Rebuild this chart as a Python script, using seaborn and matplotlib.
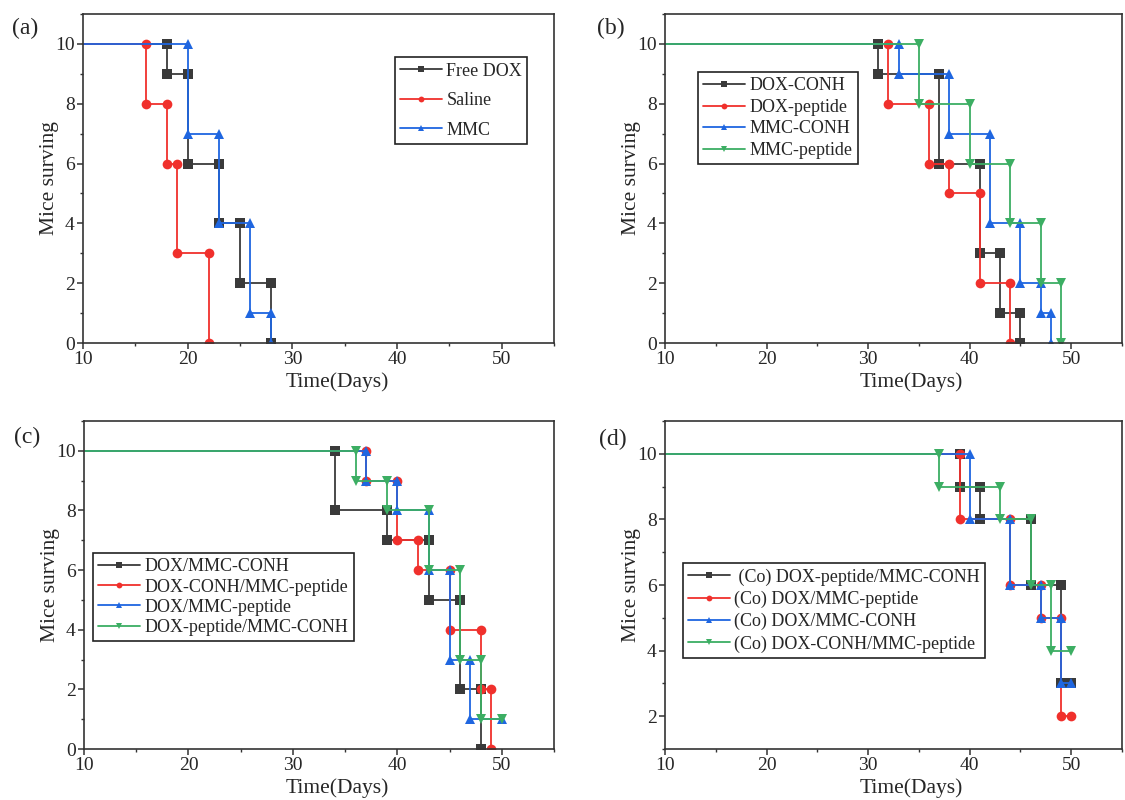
import matplotlib
matplotlib.use('Agg')
import matplotlib.pyplot as plt
from matplotlib.ticker import MultipleLocator
import seaborn as sns

# ========== DATA: day of each death event and mice left alive after it ==========
# (a)
a_names = ['Free DOX', 'Saline', 'MMC']
a_days = [[0, 18, 20, 23, 25, 28], [0, 16, 18, 19, 22], [0, 20, 23, 26, 28]]
a_alive = [[10, 9, 6, 4, 2, 0], [10, 8, 6, 3, 0], [10, 7, 4, 1, 0]]
a_end = [None, None, None]

# (b)
b_names = ['DOX-CONH', 'DOX-peptide', 'MMC-CONH', 'MMC-peptide']
b_days = [[0, 31, 37, 41, 43, 45], [0, 32, 36, 38, 41, 44],
          [0, 33, 38, 42, 45, 47, 48], [0, 35, 40, 44, 47, 49]]
b_alive = [[10, 9, 6, 3, 1, 0], [10, 8, 6, 5, 2, 0],
           [10, 9, 7, 4, 2, 1, 0], [10, 8, 6, 4, 2, 0]]
b_end = [None, None, None, None]

# (c)
c_names = ['DOX/MMC-CONH', 'DOX-CONH/MMC-peptide', 'DOX/MMC-peptide', 'DOX-peptide/MMC-CONH']
c_days = [[0, 34, 39, 43, 46, 48], [0, 37, 40, 42, 45, 48, 49],
          [0, 37, 40, 43, 45, 47], [0, 36, 39, 43, 46, 48]]
c_alive = [[10, 8, 7, 5, 2, 0], [10, 9, 7, 6, 4, 2, 0],
           [10, 9, 8, 6, 3, 1], [10, 9, 8, 6, 3, 1]]
c_end = [None, None, 50, 50]

# (d)
d_names = [' (Co) DOX-peptide/MMC-CONH', '(Co) DOX/MMC-peptide',
           '(Co) DOX/MMC-CONH', '(Co) DOX-CONH/MMC-peptide']
d_days = [[0, 39, 41, 46, 49], [0, 39, 44, 47, 49], [0, 40, 44, 47, 49], [0, 37, 43, 46, 48]]
d_alive = [[10, 9, 8, 6, 3], [10, 8, 6, 5, 2], [10, 8, 6, 5, 3], [10, 9, 8, 6, 4]]
d_end = [50, 50, 50, 50]

colors = ['#3a3a3a', '#f0302c', '#1f66e0', '#3cae63']
markers = ['s', 'o', '^', 'v']
msizes = [6.5, 7, 7.5, 7.5]

sns.set_style('ticks')
plt.rcParams['font.family'] = ['Liberation Serif', 'DejaVu Serif']
plt.rcParams['axes.edgecolor'] = '#333333'
plt.rcParams['axes.linewidth'] = 1.2


def step_points(days, alive, end):
    xs, ys = [days[0]], [alive[0]]
    for d, prev, cur in zip(days[1:], alive[:-1], alive[1:]):
        xs += [d, d]
        ys += [prev, cur]
    if end is not None:
        xs.append(end)
        ys.append(alive[-1])
    return xs, ys


fig = plt.figure(figsize=(11.25, 8), dpi=100)
W, H = 1125, 800

# pixel boxes: left, top, right, bottom
boxes = [(83, 14, 554, 343), (665, 14, 1122, 343), (84, 421, 554, 749), (665, 421, 1122, 749)]
panels = [(a_names, a_days, a_alive, a_end), (b_names, b_days, b_alive, b_end),
          (c_names, c_days, c_alive, c_end), (d_names, d_days, d_alive, d_end)]
letters = ['(a)', '(b)', '(c)', '(d)']
letter_pos = [(25, 28), (611, 28), (27, 437), (613, 439)]
ylims = [(0, 11), (0, 11), (0, 11), (1, 11)]
leg_anchor = [(0.662, 0.869), (0.072, 0.824), (0.019, 0.598), (0.039, 0.567)]
leg_spacing = [0.7, 0.25, 0.18, 0.28]

for i, (names, days, alive, ends) in enumerate(panels):
    l, t, r, b = boxes[i]
    ax = fig.add_axes([l / W, 1 - b / H, (r - l) / W, (b - t) / H])
    for j, name in enumerate(names):
        xs, ys = step_points(days[j], alive[j], ends[j])
        sns.lineplot(x=xs, y=ys, sort=False, estimator=None, errorbar=None,
                     color=colors[j], marker=markers[j], markersize=msizes[j],
                     markeredgewidth=0, linewidth=1.3, label=name, ax=ax)
    ax.set_xlim(10, 55)
    ax.set_ylim(*ylims[i])
    ax.xaxis.set_major_locator(MultipleLocator(10))
    ax.xaxis.set_minor_locator(MultipleLocator(5))
    ax.yaxis.set_major_locator(MultipleLocator(2))
    ax.yaxis.set_minor_locator(MultipleLocator(1))
    ax.tick_params(which='major', direction='out', length=4, width=1.1, labelsize=14,
                   color='#333333', pad=2)
    ax.tick_params(which='minor', direction='out', length=2.5, width=1.0, color='#333333')
    for s in ax.spines.values():
        s.set_visible(True)
    ax.set_xlabel('Time(Days)', fontsize=15.5)
    ax.set_ylabel('Mice surving', fontsize=15.5)
    ax.xaxis.set_label_coords(0.54, -0.088)
    ax.yaxis.set_label_coords(-0.052 * 471 / (r - l), 0.5)
    leg = ax.legend(loc='upper left', bbox_to_anchor=leg_anchor[i], borderaxespad=0,
                    fontsize=13, frameon=True, fancybox=False, framealpha=1,
                    edgecolor='#222222', handlelength=2.3, handletextpad=0.25,
                    labelspacing=leg_spacing[i], borderpad=0.3, markerscale=0.6)
    leg.get_frame().set_linewidth(1.2)
    fig.text(letter_pos[i][0] / W, 1 - letter_pos[i][1] / H, letters[i],
             fontsize=17, ha='center', va='center')

fig.savefig('out.png', dpi=100)
